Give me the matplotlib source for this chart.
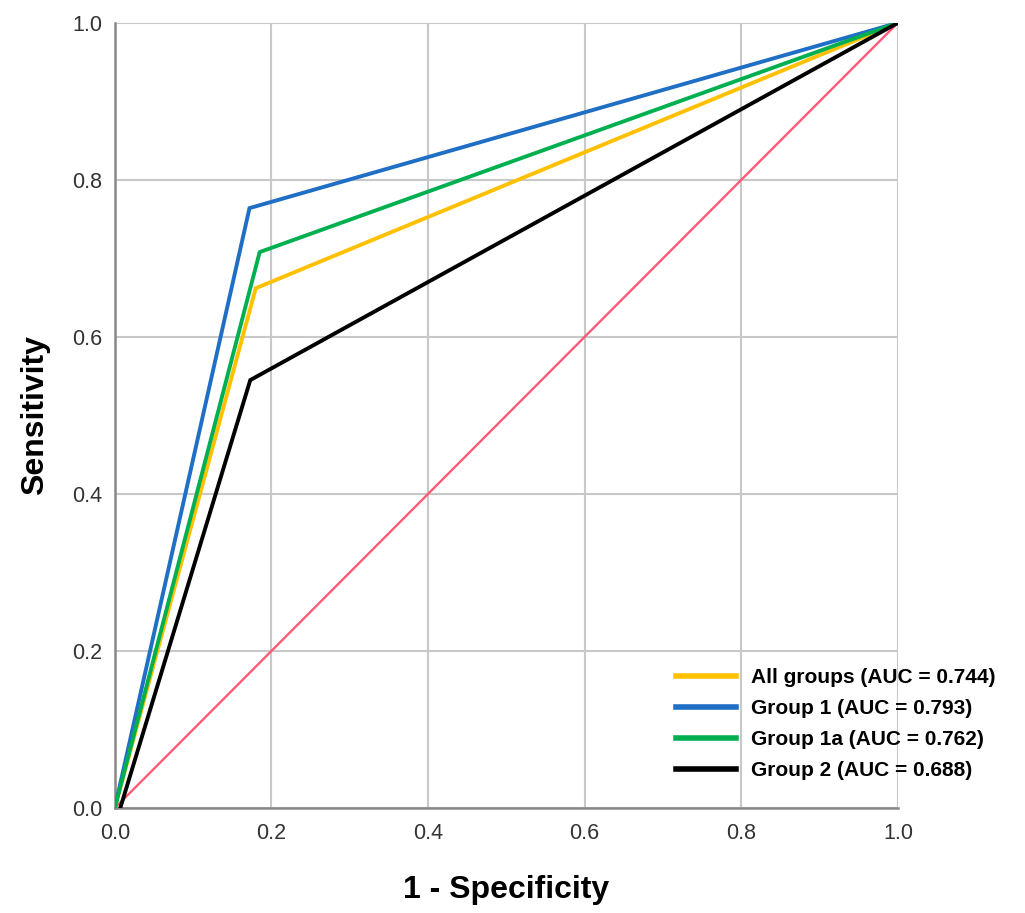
import matplotlib
matplotlib.use("Agg")
import matplotlib.pyplot as plt

plt.rcParams['font.family'] = ['Liberation Sans', 'DejaVu Sans']

labels = ["All groups (AUC = 0.744)", "Group 1 (AUC = 0.793)",
          "Group 1a (AUC = 0.762)", "Group 2 (AUC = 0.688)"]
colors = ["#FFC000", "#1F6FC5", "#00B050", "#000000"]
fpr_all = [0.0, 0.180, 1.0]
tpr_all = [0.0, 0.662, 1.0]
fpr_g1 = [0.0, 0.172, 1.0]
tpr_g1 = [0.0, 0.764, 1.0]
fpr_g1a = [0.0, 0.185, 1.0]
tpr_g1a = [0.0, 0.708, 1.0]
fpr_g2 = [0.007, 0.173, 1.0]
tpr_g2 = [0.0, 0.545, 1.0]
ref_x = [0.0, 1.0]
ref_y = [0.0, 1.0]
ticks = [0.0, 0.2, 0.4, 0.6, 0.8, 1.0]

fig = plt.figure(figsize=(10.25, 9.13), dpi=100)
ax = fig.add_axes([0.112, 0.115, 0.764, 0.860])

series = [(fpr_all, tpr_all), (fpr_g1, tpr_g1), (fpr_g1a, tpr_g1a), (fpr_g2, tpr_g2)]
handles = []
for (x, y), c, l in zip(series, colors, labels):
    ax.plot(x, y, color=c, lw=2.8, zorder=3, solid_joinstyle='miter')
    h = plt.Line2D([], [], color=c, lw=4.0)
    handles.append(h)
ax.plot(ref_x, ref_y, color="#FF5A78", lw=1.7, zorder=2)

ax.set_xlim(0, 1)
ax.set_ylim(0, 1)
ax.set_xticks(ticks)
ax.set_yticks(ticks)
ax.set_xticklabels([f"{t:.1f}" for t in ticks])
ax.set_yticklabels([f"{t:.1f}" for t in ticks])
ax.tick_params(length=0, labelsize=15.5, colors="#333333")
ax.tick_params(axis='x', pad=11)
ax.tick_params(axis='y', pad=9)
ax.grid(True, color="#C8C8C8", lw=1.5)
ax.set_axisbelow(True)
for s in ["top", "right"]:
    ax.spines[s].set_visible(False)
for s in ["left", "bottom"]:
    ax.spines[s].set_color("#888888")
    ax.spines[s].set_linewidth(1.8)

ax.set_xlabel("1 - Specificity", fontsize=23, fontweight='bold', labelpad=22)
ax.set_ylabel("Sensitivity", fontsize=23, fontweight='bold', labelpad=16)

fig.legend(handles=handles, labels=labels, loc='upper left',
           bbox_to_anchor=(676 / 1025, (913 - 668) / 913), frameon=False,
           prop={'size': 15, 'weight': 'bold'}, handlelength=2.9,
           handletextpad=0.7, labelspacing=0.58, borderpad=0, borderaxespad=0)

fig.savefig("out.png", dpi=100)
